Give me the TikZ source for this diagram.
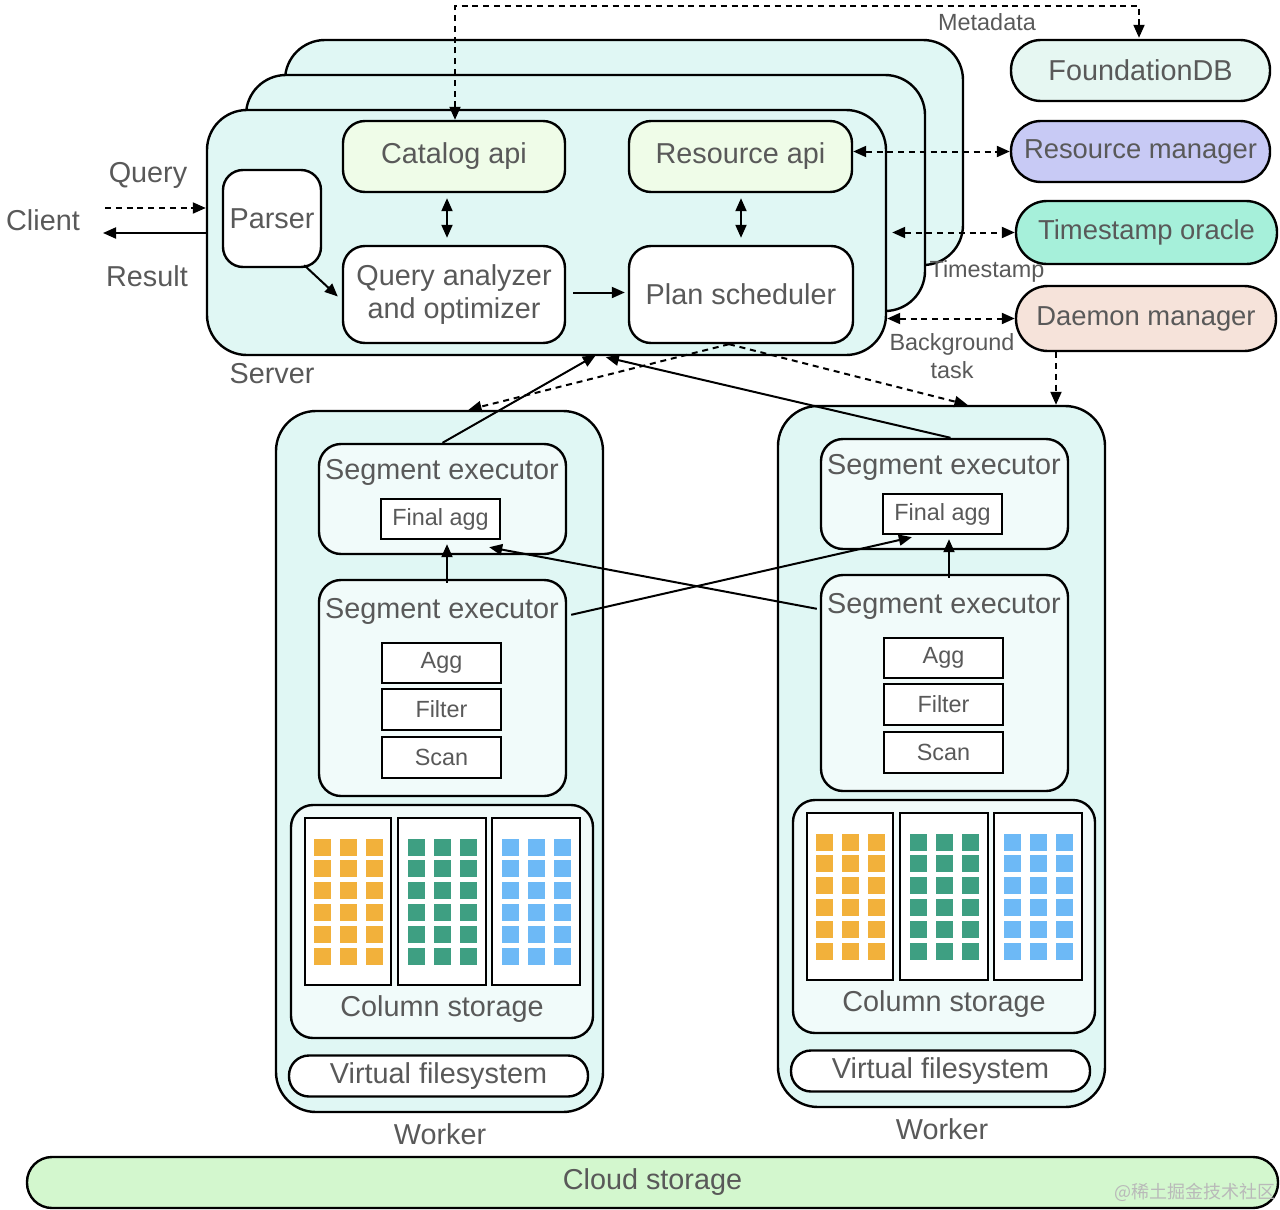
\documentclass[tikz,border=0pt]{standalone}
\usepackage{fontspec}
\setmainfont{Liberation Sans}
\newfontfamily\cjkfont{Noto Sans CJK SC}
\usetikzlibrary{arrows.meta,calc}
\definecolor{tc}{HTML}{595959}
\definecolor{srvfill}{HTML}{E0F7F4}
\definecolor{segfill}{HTML}{F1FBFA}
\definecolor{apifill}{HTML}{EFFCE8}
\definecolor{fdbfill}{HTML}{E6F7F2}
\definecolor{rmfill}{HTML}{C8CAF5}
\definecolor{tsofill}{HTML}{A6F0DA}
\definecolor{dmfill}{HTML}{F6E3DA}
\definecolor{cloudfill}{HTML}{D3F7CE}
\definecolor{sqo}{HTML}{F2B13B}
\definecolor{sqg}{HTML}{3E9F82}
\definecolor{sqb}{HTML}{6DB9F6}
\tikzset{
  wh/.style 2 args={minimum width=#1*0.5pt, minimum height=#2*0.5pt},
  box/.style={draw=black, line width=1.2pt, inner sep=0pt, text=tc, align=center,
              font=\fontsize{14.4}{16.5}\selectfont},
  txt/.style={text=tc, inner sep=0pt, align=center, font=\fontsize{14.4}{16.5}\selectfont},
  smalltxt/.style={text=tc, inner sep=0pt, align=center, font=\fontsize{11.7}{14}\selectfont},
  rtxt/.style={font=\fontsize{13.7}{16}\selectfont},
  tip/.tip={Triangle[length=6.5pt,width=5.5pt]},
  conn/.style={line width=1pt, -tip},
  dconn/.style={conn, dash pattern=on 3pt off 2.4pt},
  dboth/.style={line width=1pt, tip-tip, dash pattern=on 3pt off 2.4pt},
  sboth/.style={line width=1pt, tip-tip},
}
\newcommand{\drawworker}{%
  \node[box, fill=srvfill, wh={327}{701}, rounded corners=20pt] (worker) at (439.5,761.5) {};
  \node[box, fill=segfill, wh={247}{110}, rounded corners=11pt] (segtop) at (442.5,499) {};
  \node[txt] (segtopt) at (442,472) {Segment executor};
  \node[box, fill=white, wh={119}{40}, font=\fontsize{11.7}{14}\selectfont] (finalagg) at (440.5,519) {Final agg};
  \node[box, fill=segfill, wh={247}{216}, rounded corners=11pt] (segbot) at (442.5,688) {};
  \node[txt] (segbott) at (442,611) {Segment executor};
  \node[box, fill=white, wh={119}{40}, font=\fontsize{11.7}{14}\selectfont] (agg) at (441.5,663) {Agg};
  \node[box, fill=white, wh={119}{41}, font=\fontsize{11.7}{14}\selectfont] (filter) at (441.5,709.5) {Filter};
  \node[box, fill=white, wh={119}{41}, font=\fontsize{11.7}{14}\selectfont] (scan) at (441.5,757.5) {Scan};
  \node[box, fill=segfill, wh={302}{233}, rounded corners=11pt] (colstore) at (442,921.5) {};
  \node[box, fill=white, wh={86}{167}] (c1) at (348,901.5) {};
  \node[box, fill=white, wh={88}{167}] (c2) at (442,901.5) {};
  \node[box, fill=white, wh={88}{167}] (c3) at (536,901.5) {};
  \foreach \cx/\col in {348/sqo,442/sqg,536/sqb}{
    \foreach \dx in {-26,0,26}{
      \foreach \dy in {-54.5,-32.7,-10.9,10.9,32.7,54.5}{
        \fill[\col] (\cx+\dx-8.5,901.5+\dy-8.5) rectangle ++(17,17);
      }}}
  \node[txt] (colt) at (442,1009) {Column storage};
  \node[box, fill=white, wh={299}{41}, rounded corners=10pt] (vfs) at (438.5,1076) {Virtual filesystem};
  \node[txt] (wlabel) at (440,1134) {Worker};
  \draw[conn] ($(segbot.north)+(4.5,4)$) -- ($(finalagg.south)+(6.5,4)$);
}
\begin{document}
\begin{tikzpicture}[x=0.5pt,y=-0.5pt]
\useasboundingbox (0,0) rectangle (1280,1210);

% server stack
\node[box, fill=srvfill, wh={678}{225}, rounded corners=20pt] (srv3) at (624,152.5) {};
\node[box, fill=srvfill, wh={679}{236}, rounded corners=20pt] (srv2) at (585.5,193) {};
\node[box, fill=srvfill, wh={679}{245}, rounded corners=20pt] (srv) at (546.5,232.5) {};
\node[txt] (srvlabel) at (272,374) {Server};

\node[box, fill=white, wh={98}{97}, rounded corners=10pt] (parser) at (272,218.5) {Parser};
\node[box, fill=apifill, wh={222}{71}, rounded corners=11pt] (catalog) at (454,156.5) {Catalog api};
\node[box, fill=white, wh={222}{97}, rounded corners=11pt] (query) at (454,294.5) {Query analyzer\\and optimizer};
\node[box, fill=apifill, wh={223}{71}, rounded corners=11pt] (resapi) at (740.5,156.5) {Resource api};
\node[box, fill=white, wh={224}{97}, rounded corners=11pt] (plan) at (741,294.5) {Plan scheduler};

% client
\node[txt] (client) at (43,220) {Client};
\node[txt] (qlabel) at (148,175) {Query};
\node[txt] (rlabel) at (147,276) {Result};
\coordinate (qstart) at (105,208);
\coordinate (rend) at (103,233);
\draw[dconn] (qstart) -- (qstart -| srv.west);
\draw[conn] (rend -| srv.west) -- (rend);

% right side services
\node[box, fill=fdbfill, wh={259}{61}, rounded corners=15pt] (fdb) at (1140.5,70.5) {FoundationDB};
\node[box, fill=rmfill, wh={259}{61}, rounded corners=15pt, rtxt] (rm) at (1140.5,151.5) {Resource manager};
\node[box, fill=tsofill, wh={261}{63}, rounded corners=15.5pt, rtxt] (tso) at (1146.5,232.5) {Timestamp oracle};
\node[box, fill=dmfill, wh={260}{65}, rounded corners=16pt, rtxt] (dm) at (1146,318.5) {Daemon manager};

\node[smalltxt] (metalabel) at (987,22) {Metadata};
\node[smalltxt] (tslabel) at (987,271) {Timestamp};
\node[smalltxt, font=\fontsize{11.7}{14}\selectfont] (bglabel) at (952,356) {Background\\task};

% inner server connectors
\draw[conn] ($(parser.south east)+(-18,-3)$) -- ($(query.west)+(-4,2)$);
\draw[conn] ($(query.east)+(7,-2)$) -- ($(plan.west)+(-3,-2)$);
\draw[sboth] ($(catalog.south)+(-7,5)$) -- ($(query.north)+(-7,-7)$);
\draw[sboth] ($(resapi.south)+(0.5,5)$) -- ($(plan.north)+(0,-7)$);

% metadata
\coordinate (metaR) at ($(fdb.north)+(-1.5,-1)$);
\draw[dboth] ($(catalog.north)+(1,0)$) |- ($(metaR)+(0,-32)$) -- (metaR);
\draw[dboth] (resapi.east |- rm.west) -- (rm.west);
\draw[dboth] ($(srv.east |- tso.west)+(5,0)$) -- (tso.west);
\draw[dboth] (srv.east |- dm.west) -- (dm.west);

% workers
\begin{scope}[name prefix=w1-]
  \drawworker
\end{scope}
\begin{scope}[shift={(502,-5)}, name prefix=w2-]
  \drawworker
\end{scope}

% cloud
\node[box, fill=cloudfill, wh={1251}{51}, rounded corners=12.5pt] (cloud) at (652.5,1182.5) {Cloud storage};
\node[text=gray!55, inner sep=0pt, font=\cjkfont\fontsize{9}{10}\selectfont] (wm) at (1195,1192) {@稀土掘金技术社区};

% server <-> worker connectors
\coordinate (dmout) at ($(dm.south)+(-90,0)$);
\draw[dconn] (dmout) -- (dmout |- w2-worker.north);
\coordinate (planout) at ($(plan.south)+(-12,0)$);
\draw[dconn] (planout) -- ($(w1-worker.north)+(29,0)$);
\draw[dconn] (planout) -- ($(w2-worker.north)+(26,0)$);
\draw[conn] (w1-segtop.north) -- ($(srv.south west)+(390,-1)$);
\draw[conn] ($(w2-segtop.north)+(6,0)$) -- ($(srv.south west)+(400,1)$);
\draw[conn] ($(w1-segbot.north east)+(4,36)$) -- ($(w2-finalagg.south west)+(30,2)$);
\draw[conn] ($(w2-segbot.north west)+(-3,35)$) -- ($(w1-finalagg.south east)+(-12,7)$);
\end{tikzpicture}
\end{document}
